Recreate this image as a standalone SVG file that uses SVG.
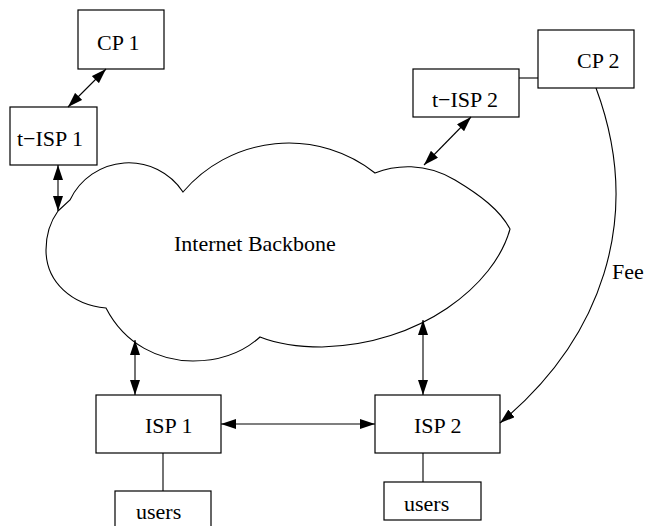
<svg xmlns="http://www.w3.org/2000/svg" width="647" height="526" viewBox="0 0 647 526">
<style>
.box{fill:#fff;stroke:#000;stroke-width:1.2}
.lbl{font-family:"Liberation Serif","Times New Roman",serif;font-size:22px;fill:#000}
.ln{fill:none;stroke:#000;stroke-width:1.1}
.arr{fill:none;stroke:#000;stroke-width:1.1;marker-start:url(#ah);marker-end:url(#ah)}
</style>
<defs>
<marker id="ah" markerUnits="userSpaceOnUse" markerWidth="16" markerHeight="10" refX="15" refY="5" orient="auto-start-reverse" viewBox="0 0 16 10">
<path d="M0,0 L15,5 L0,10 Z" fill="#000"/>
</marker>
<marker id="ahe" markerUnits="userSpaceOnUse" markerWidth="16" markerHeight="10" refX="15" refY="5" orient="auto" viewBox="0 0 16 10">
<path d="M0,0 L15,5 L0,10 Z" fill="#000"/>
</marker>
</defs>
<rect width="647" height="526" fill="#fff"/>
<g id="cloud">
<path class="ln" d="M58,211 L70,200 A65,65 0 0 1 183,192 A139,139 0 0 1 375,173 C395,165 425,162 455,180 C480,195 500,210 510,229 C495,285 420,345 322,347 C295,347 275,343 260,337 C240,355 215,361 193,361 C160,361 125,345 106,308 C72,305 46,282 46,250 C46,235 50,222 58,211 Z"/>
<text class="lbl" x="174" y="251">Internet Backbone</text>
</g>
<g id="cp1"><rect class="box" x="78" y="10" width="86" height="59"/><text class="lbl" x="97" y="50">CP 1</text></g>
<g id="tisp1"><rect class="box" x="10" y="107" width="87" height="58"/><text class="lbl" x="17" y="146">t−ISP 1</text></g>
<g id="tisp2"><rect class="box" x="413" y="69" width="106" height="48"/><text class="lbl" x="432" y="107">t−ISP 2</text></g>
<g id="cp2"><rect class="box" x="538" y="30" width="96" height="58"/><text class="lbl" x="577" y="68">CP 2</text></g>
<g id="isp1"><rect class="box" x="96" y="395" width="125" height="58"/><text class="lbl" x="145" y="433">ISP 1</text></g>
<g id="isp2"><rect class="box" x="375" y="395" width="125" height="58"/><text class="lbl" x="414" y="433">ISP 2</text></g>
<g id="users1"><rect class="box" x="115" y="491" width="96" height="45"/><text class="lbl" x="136" y="519">users</text></g>
<g id="users2"><rect class="box" x="384" y="482" width="97" height="38"/><text class="lbl" x="404" y="511">users</text></g>
<g id="connectors">
<line class="arr" x1="106" y1="69" x2="68" y2="107"/>
<line class="arr" x1="58" y1="165" x2="58" y2="211"/>
<line class="arr" x1="471" y1="117" x2="424" y2="165"/>
<line class="arr" x1="135" y1="340" x2="135" y2="395"/>
<line class="arr" x1="423" y1="320" x2="423" y2="395"/>
<line class="arr" x1="221" y1="424" x2="375" y2="424"/>
<line class="ln" x1="519" y1="78" x2="538" y2="78"/>
<line class="ln" x1="163" y1="453" x2="163" y2="491"/>
<line class="ln" x1="423" y1="453" x2="423" y2="482"/>
<path class="ln" d="M596,88 C645,220 600,340 500,423" marker-end="url(#ahe)"/>
<text class="lbl" x="612" y="279">Fee</text>
</g>
</svg>
